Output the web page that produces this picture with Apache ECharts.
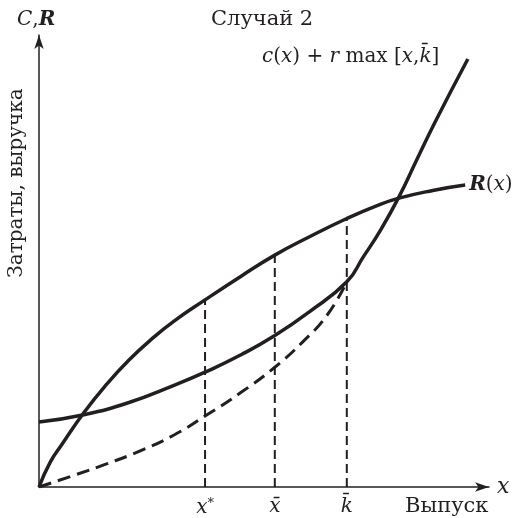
<!DOCTYPE html>
<html><head><meta charset="utf-8">
<script src="https://cdn.jsdelivr.net/npm/echarts@6/dist/echarts.min.js"></script>
<style>html,body{margin:0;padding:0;background:#fff}#c{width:522px;height:518px}</style>
</head><body><div id="c"></div>
<script>
// Revenue curve R(x)
const revenueX = [0, 0.25, 0.5, 1, 1.5, 2, 2.5, 3, 3.69, 4.5, 5.24, 6, 6.84, 7.5, 8, 8.75, 9.47];
const revenueY = [0, 0.55, 0.93, 1.65, 2.27, 2.81, 3.27, 3.67, 4.14, 4.67, 5.13, 5.53, 5.94, 6.22, 6.39, 6.56, 6.68];
// Cost curve c(x) + r max[x, k]
const costX = [0, 1, 2, 3, 3.69, 4.5, 5.24, 6, 6.84, 7.2, 7.6, 8, 8.4, 8.8, 9.53];
const costY = [1.44, 1.6, 1.87, 2.25, 2.54, 2.93, 3.35, 3.87, 4.54, 5.08, 5.7, 6.42, 7.25, 8.07, 9.47];
// Dashed curve c(x) + r x
const dashX = [0, 0.75, 1.5, 2.25, 3, 3.69, 4.5, 5.24, 5.85, 6.4, 6.84];
const dashY = [0, 0.25, 0.51, 0.8, 1.15, 1.57, 2.1, 2.65, 3.2, 3.8, 4.54];
// Guide positions x*, x-bar, k-bar
const guideX = [3.69, 5.24, 6.84];
const guideTop = [4.14, 5.13, 5.94];
const guideLabels = ['{i|x}{s|*}', '{i|x̄}', '{i|k̄}'];

const INK = '#231f20';
const SERIF = '"DejaVu Serif", "Liberation Serif", serif';
const zip = (a, b) => a.map((v, i) => [v, b[i]]);

const guideSeries = guideX.map((gx, i) => ({
  type: 'line', data: [[gx, 0], [gx, guideTop[i]]], symbol: 'none', silent: true,
  lineStyle: { color: INK, width: 2, type: [9, 5] }, z: 1
}));

const curve = (data, style, extra) => Object.assign({
  type: 'line', data, symbol: 'none', smooth: 0.5, silent: true,
  lineStyle: style, z: 3
}, extra || {});

const chart = echarts.init(document.getElementById('c'), null, { renderer: 'canvas' });
chart.setOption({
  animation: false,
  grid: { left: 39, right: 33, top: 35, bottom: 31, containLabel: false, outerBoundsMode: 'none' },
  xAxis: {
    type: 'value', min: 0, max: 10,
    splitLine: { show: false },
    axisTick: { show: false },
    axisLine: { lineStyle: { color: INK, width: 1.5 }, symbol: ['none', 'arrow'], symbolSize: [7, 14] },
    axisLabel: {
      customValues: guideX, margin: 10,
      formatter: v => guideLabels[guideX.indexOf(v)] || '',
      rich: {
        i: { fontFamily: SERIF, fontStyle: 'italic', fontSize: 20, color: INK },
        s: { fontFamily: SERIF, fontSize: 13, color: INK, verticalAlign: 'top', padding: [0, 0, 8, 0] }
      }
    },
    name: 'x', nameLocation: 'end', nameGap: 8,
    nameTextStyle: { fontFamily: SERIF, fontStyle: 'italic', fontSize: 22, color: INK, verticalAlign: 'middle' }
  },
  yAxis: {
    type: 'value', min: 0, max: 10,
    splitLine: { show: false }, axisTick: { show: false }, axisLabel: { show: false },
    axisLine: { lineStyle: { color: INK, width: 1.5 }, symbol: ['none', 'arrow'], symbolSize: [7, 14] }
  },
  series: [
    ...guideSeries,
    curve(zip(dashX, dashY), { color: INK, width: 3, type: [13, 7] }, { z: 2 }),
    curve(zip(costX, costY), { color: INK, width: 3.5 }),
    curve(zip(revenueX, revenueY), { color: INK, width: 3.5 }, {
      endLabel: { show: true, distance: 4, formatter: '{b|R}{n|(}{i|x}{n|)}',
        rich: {
          b: { fontFamily: SERIF, fontStyle: 'italic', fontWeight: 'bold', fontSize: 20, color: INK },
          n: { fontFamily: SERIF, fontSize: 20, color: INK },
          i: { fontFamily: SERIF, fontStyle: 'italic', fontSize: 20, color: INK }
        } } })
  ],
  graphic: [
    { type: 'text', left: 211, top: 9, style: { text: 'Случай 2', font: '21px ' + SERIF, fill: INK } },
    { type: 'text', left: 17, top: 10, style: { text: '{i|C},{b|R}', font: '20px ' + SERIF, fill: INK,
      rich: { i: { fontFamily: SERIF, fontStyle: 'italic', fontSize: 20, fill: INK },
              b: { fontFamily: SERIF, fontStyle: 'italic', fontWeight: 'bold', fontSize: 20, fill: INK } } } },
    { type: 'text', left: 262, top: 47, style: {
      text: '{i|c}{n|(}{i|x}{n|) + }{i|r}{n| max [}{i|x}{n|,}{i|k̄}{n|]}', font: '20px ' + SERIF, fill: INK,
      rich: { i: { fontFamily: SERIF, fontStyle: 'italic', fontSize: 20, fill: INK },
              n: { fontFamily: SERIF, fontSize: 20, fill: INK } } } },
    { type: 'text', x: 17, y: 183, rotation: Math.PI / 2,
      style: { text: 'Затраты, выручка', font: '20px ' + SERIF, fill: INK, align: 'center', verticalAlign: 'middle' } },
    { type: 'text', left: 405, top: 496, style: { text: 'Выпуск', font: '21px ' + SERIF, fill: INK } }
  ]
});
</script></body></html>
